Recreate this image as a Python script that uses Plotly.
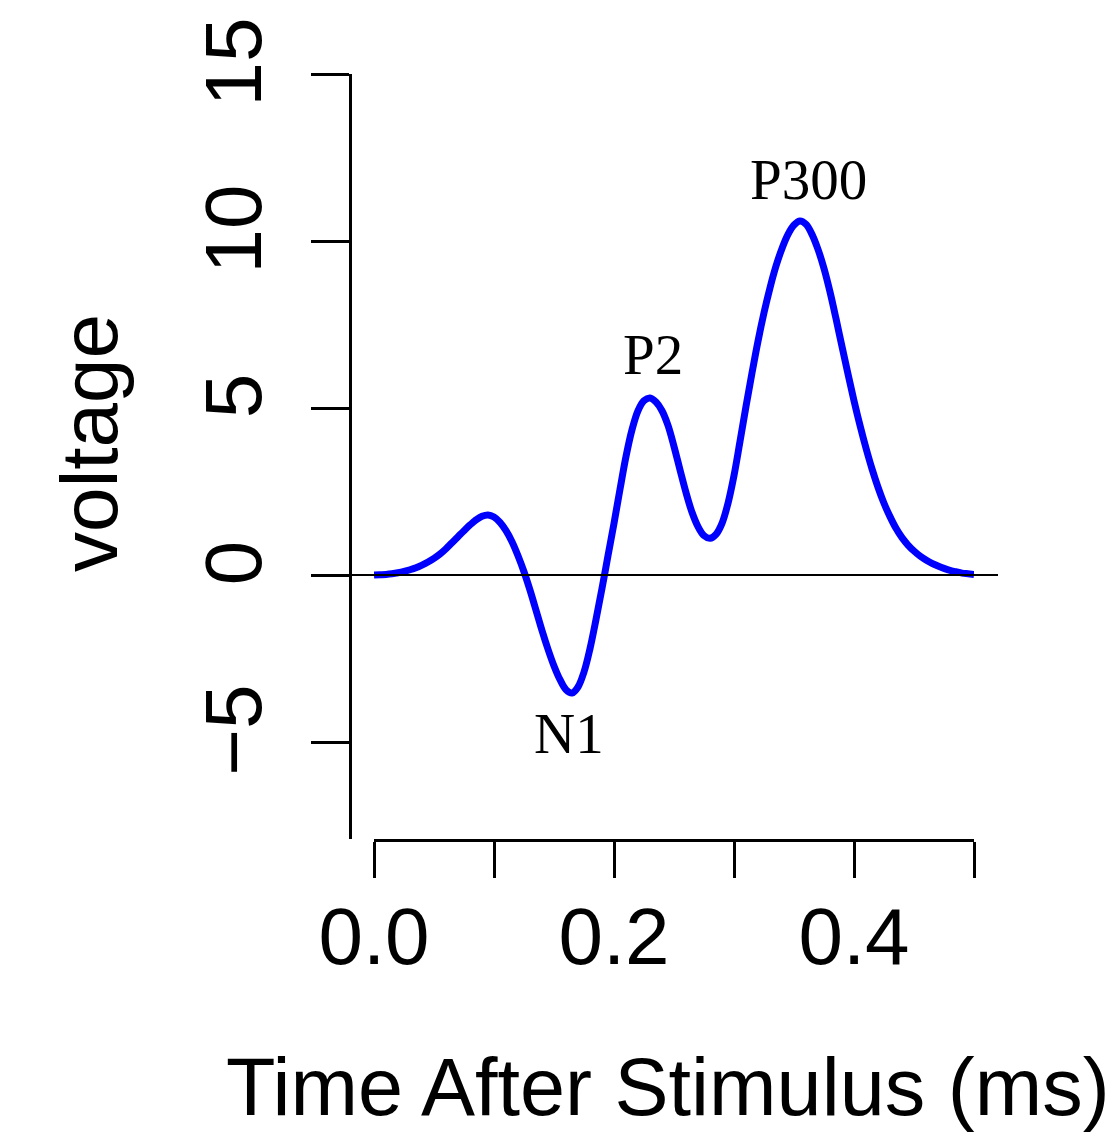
import plotly.graph_objects as go

# Time after stimulus and ERP voltage (every 0.005)
time = [round(i * 0.005, 3) for i in range(101)]
voltage = [
    0.00, 0.01, 0.02, 0.04, 0.07, 0.11, 0.16, 0.22, 0.30, 0.39,
    0.50, 0.63, 0.79, 0.97, 1.15, 1.33, 1.50, 1.65, 1.76, 1.80,
    1.74, 1.58, 1.33, 1.00, 0.58, 0.10, -0.45, -1.05, -1.66, -2.22,
    -2.72, -3.13, -3.43, -3.53, -3.35, -2.90, -2.20, -1.33, -0.40, 0.58,
    1.55, 2.57, 3.55, 4.35, 4.92, 5.22, 5.30, 5.18, 4.92, 4.48,
    3.85, 3.15, 2.47, 1.88, 1.45, 1.18, 1.10, 1.22, 1.55, 2.15,
    2.98, 4.00, 5.05, 6.05, 7.00, 7.85, 8.60, 9.25, 9.78, 10.20,
    10.48, 10.60, 10.50, 10.20, 9.75, 9.18, 8.48, 7.68, 6.84, 6.02,
    5.22, 4.48, 3.80, 3.18, 2.63, 2.15, 1.75, 1.40, 1.12, 0.90,
    0.72, 0.57, 0.45, 0.35, 0.27, 0.20, 0.14, 0.10, 0.06, 0.04, 0.02,
]

x_ticks = [0.0, 0.1, 0.2, 0.3, 0.4, 0.5]
x_ticktext = ["0.0", "", "0.2", "", "0.4", ""]
y_ticks = [-5, 0, 5, 10, 15]
y_ticktext = ["\u22125", "0", "5", "10", "15"]

peak_labels = ["N1", "P2", "P300"]
peak_x = [0.1625, 0.2325, 0.362]
peak_y = [-4.75, 6.6, 11.85]

W, H = 1110, 1139
L, R, T, B = 350, 136, 74, 300
PW, PH = W - L - R, H - T - B

fig = go.Figure()
fig.add_trace(go.Scatter(
    x=time, y=voltage, mode="lines",
    line=dict(color="#0000FF", width=7, shape="spline", smoothing=1.0),
    showlegend=False, hoverinfo="skip",
))

# horizontal reference line at zero voltage across the plot region
fig.add_shape(type="line", xref="x domain", yref="y",
              x0=-0.04, x1=1.04, y0=0, y1=0,
              line=dict(color="black", width=2))

for lab, px, py in zip(peak_labels, peak_x, peak_y):
    fig.add_annotation(x=px, y=py, text=lab, showarrow=False,
                       xanchor="center", yanchor="middle",
                       font=dict(family="Liberation Serif", size=57, color="black"))

# axis titles
fig.add_annotation(xref="paper", yref="paper", x=(90 - L) / PW, y=(H - B - 443) / PH,
                   text="voltage", textangle=-90, showarrow=False,
                   xanchor="center", yanchor="middle",
                   font=dict(family="Liberation Sans", size=80, color="black"))
fig.add_annotation(xref="paper", yref="paper", x=(668 - L) / PW, y=(H - B - 1087) / PH,
                   text="Time After Stimulus (ms)", showarrow=False,
                   xanchor="center", yanchor="middle",
                   font=dict(family="Liberation Sans", size=81, color="black"))

fig.update_layout(
    width=W, height=H,
    margin=dict(l=L, r=R, t=T, b=B, pad=0),
    paper_bgcolor="white", plot_bgcolor="white",
    xaxis=dict(
        domain=[24 / PW, 1.0], range=[0, 0.5],
        tickmode="array", tickvals=x_ticks, ticktext=x_ticktext,
        ticks="outside", ticklen=36, tickwidth=3, tickcolor="black",
        showline=True, linewidth=3, linecolor="black",
        showgrid=False, zeroline=False, anchor="y",
        tickfont=dict(family="Liberation Sans", size=80, color="black"),
        ticklabelstandoff=-10,
    ),
    yaxis=dict(
        range=[-7.9, 15], anchor="free", position=0,
        tickmode="array", tickvals=y_ticks, ticktext=y_ticktext,
        ticks="outside", ticklen=38, tickwidth=3, tickcolor="black",
        showline=True, linewidth=3, linecolor="black",
        showgrid=False, zeroline=False, tickangle=-90,
        tickfont=dict(family="Liberation Sans", size=80, color="black"),
        ticklabelstandoff=18,
    ),
)

fig.write_html("out.html")
